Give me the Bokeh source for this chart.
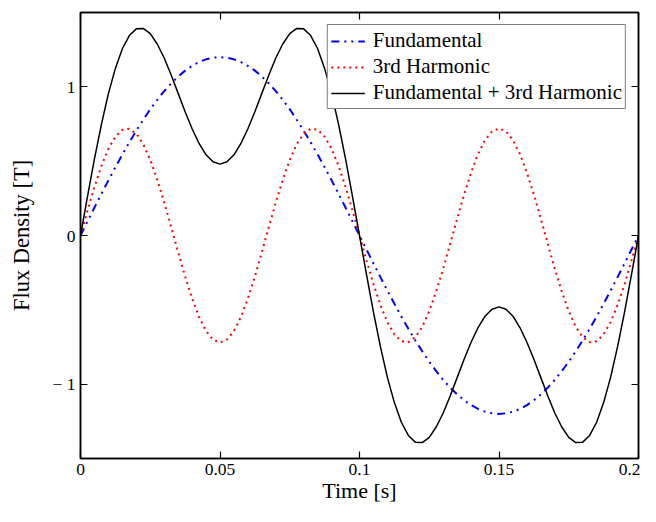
from bokeh.plotting import figure
from bokeh.models import Range1d, LinearAxis, FixedTicker
from bokeh.embed import file_html
from bokeh.resources import INLINE

# ---- data (time in s, flux density in T) ----
time_s = [0.0, 0.0025, 0.005, 0.0075, 0.01, 0.0125, 0.015, 0.0175, 0.02, 0.0225,
          0.025, 0.0275, 0.03, 0.0325, 0.035, 0.0375, 0.04, 0.0425, 0.045, 0.0475,
          0.05, 0.0525, 0.055, 0.0575, 0.06, 0.0625, 0.065, 0.0675, 0.07, 0.0725,
          0.075, 0.0775, 0.08, 0.0825, 0.085, 0.0875, 0.09, 0.0925, 0.095, 0.0975,
          0.1, 0.1025, 0.105, 0.1075, 0.11, 0.1125, 0.115, 0.1175, 0.12, 0.1225,
          0.125, 0.1275, 0.13, 0.1325, 0.135, 0.1375, 0.14, 0.1425, 0.145, 0.1475,
          0.15, 0.1525, 0.155, 0.1575, 0.16, 0.1625, 0.165, 0.1675, 0.17, 0.1725,
          0.175, 0.1775, 0.18, 0.1825, 0.185, 0.1875, 0.19, 0.1925, 0.195, 0.1975,
          0.2]

fundamental = [0.0, 0.094, 0.188, 0.280, 0.371, 0.459, 0.545, 0.627, 0.705, 0.779,
               0.849, 0.912, 0.971, 1.023, 1.069, 1.109, 1.141, 1.167, 1.185, 1.196,
               1.2, 1.196, 1.185, 1.167, 1.141, 1.109, 1.069, 1.023, 0.971, 0.912,
               0.849, 0.779, 0.705, 0.627, 0.545, 0.459, 0.371, 0.280, 0.188, 0.094,
               0.0, -0.094, -0.188, -0.280, -0.371, -0.459, -0.545, -0.627, -0.705, -0.779,
               -0.849, -0.912, -0.971, -1.023, -1.069, -1.109, -1.141, -1.167, -1.185, -1.196,
               -1.2, -1.196, -1.185, -1.167, -1.141, -1.109, -1.069, -1.023, -0.971, -0.912,
               -0.849, -0.779, -0.705, -0.627, -0.545, -0.459, -0.371, -0.280, -0.188, -0.094,
               0.0]

third_harmonic = [0.0, 0.168, 0.327, 0.468, 0.583, 0.665, 0.711, 0.718, 0.685, 0.614,
                  0.509, 0.376, 0.223, 0.057, -0.113, -0.276, -0.423, -0.548, -0.642, -0.700,
                  -0.720, -0.700, -0.642, -0.548, -0.423, -0.276, -0.113, 0.057, 0.223, 0.376,
                  0.509, 0.614, 0.685, 0.718, 0.711, 0.665, 0.583, 0.468, 0.327, 0.168,
                  0.0, -0.168, -0.327, -0.468, -0.583, -0.665, -0.711, -0.718, -0.685, -0.614,
                  -0.509, -0.376, -0.223, -0.057, 0.113, 0.276, 0.423, 0.548, 0.642, 0.700,
                  0.720, 0.700, 0.642, 0.548, 0.423, 0.276, 0.113, -0.057, -0.223, -0.376,
                  -0.509, -0.614, -0.685, -0.718, -0.711, -0.665, -0.583, -0.468, -0.327, -0.168,
                  0.0]

x_ticks = [0, 0.05, 0.1, 0.15, 0.2]
x_tick_labels = ["0", "0.05", "0.1", "0.15", "0.2"]
y_ticks = [-1, 0, 1]
y_tick_labels = ["\u2212 1", "0", "1"]

series_names = ["Fundamental", "3rd Harmonic", "Fundamental + 3rd Harmonic"]

# combined waveform is the sum of the two components
combined = [a + b for a, b in zip(fundamental, third_harmonic)]

FONT = "Liberation Serif"

p = figure(width=640, height=506,
           x_range=Range1d(0, 0.2), y_range=Range1d(-1.5, 1.5),
           output_backend="svg", toolbar_location=None,
           min_border_left=80, min_border_right=2,
           min_border_top=12, min_border_bottom=48)

p.xgrid.visible = False
p.ygrid.visible = False
p.outline_line_color = "black"
p.outline_line_width = 1.5
p.outline_line_alpha = 1.0
p.background_fill_color = "white"
p.border_fill_color = "white"

def style_axis(ax, ticks, labels=None, show_labels=True):
    ax.ticker = FixedTicker(ticks=ticks)
    ax.major_tick_in = 7
    ax.major_tick_out = 0
    ax.major_tick_line_color = "black"
    ax.major_tick_line_width = 1.2
    ax.minor_tick_line_color = None
    ax.axis_line_color = "black"
    ax.axis_line_width = 1.5
    if show_labels:
        ax.major_label_overrides = {t: l for t, l in zip(ticks, labels)}
        ax.major_label_text_font = FONT
        ax.major_label_text_font_size = "17.5px"
        ax.major_label_text_color = "black"
    else:
        ax.major_label_overrides = {t: "" for t in ticks}
        ax.major_label_standoff = 0

xa = p.xaxis[0]
style_axis(xa, x_ticks, x_tick_labels)
xa.major_label_standoff = 5
xa.axis_label = "Time [s]"
xa.axis_label_text_font = FONT
xa.axis_label_text_font_size = "22px"
xa.axis_label_text_font_style = "normal"
xa.axis_label_text_color = "black"
xa.axis_label_standoff = 0

ya = p.yaxis[0]
style_axis(ya, y_ticks, y_tick_labels)
ya.major_label_standoff = 5
ya.axis_label = "Flux Density [T]"
ya.axis_label_text_font = FONT
ya.axis_label_text_font_size = "22.5px"
ya.axis_label_text_font_style = "normal"
ya.axis_label_text_color = "black"
ya.axis_label_standoff = 16

top_ax = LinearAxis()
style_axis(top_ax, x_ticks, show_labels=False)
p.add_layout(top_ax, "above")
right_ax = LinearAxis()
style_axis(right_ax, y_ticks, show_labels=False)
p.add_layout(right_ax, "right")

p.line(time_s, fundamental, line_color="#0000ff", line_width=2,
       line_dash="8 5 2 5 2 5", legend_label=series_names[0])
p.line(time_s, third_harmonic, line_color="#ff0000", line_width=2,
       line_dash="2 4", legend_label=series_names[1])
p.line(time_s, combined, line_color="black", line_width=1.5,
       legend_label=series_names[2])

lg = p.legend[0]
lg.location = "top_right"
lg.margin = 12
lg.border_line_color = "black"
lg.border_line_width = 1.5
lg.background_fill_color = "white"
lg.background_fill_alpha = 1.0
lg.label_text_font = FONT
lg.label_text_font_size = "21px"
lg.label_text_color = "black"
lg.glyph_width = 34
lg.glyph_height = 20
lg.label_height = 20
lg.label_standoff = 8
lg.spacing = 1
lg.padding = 3

open("out.html", "w").write(file_html(p, INLINE))
